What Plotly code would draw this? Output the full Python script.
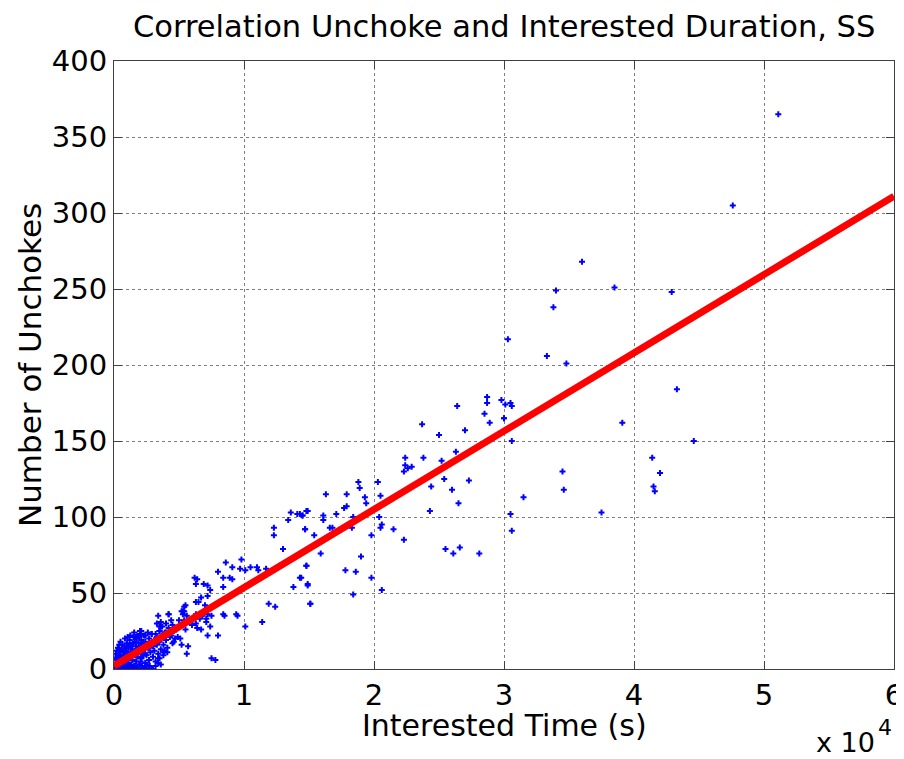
import plotly.graph_objects as go

# Interested time (seconds) and number of unchokes
interested_time_s = [
    # dense cluster near origin
    100, 200, 200, 300, 300, 400, 400, 500, 500, 500, 600, 600, 600, 700, 700,
    800, 800, 800, 900, 900, 900, 1000, 1000, 1000, 1000, 1100, 1100, 1200, 1200,
    1200, 1300, 1300, 1300, 1400, 1400, 1400, 1500, 1500, 1600, 1600, 1600, 1700,
    1700, 1800, 1800, 1800, 1900, 1900, 2000, 2000, 2000, 2100, 2100, 2200, 2200,
    2200, 2300, 2300, 2400, 2400, 2500, 2500, 2600, 2600, 2700, 2700, 2800, 2800,
    2900, 2900, 3000, 3000, 3100, 3100, 3200, 3300, 3300, 3400, 3500, 3500, 3600,
    3600, 3700, 3800, 3800, 3900, 4000, 4000, 4100, 4200, 4300, 4400, 4500, 4600,
    300, 600, 900, 1200, 1500, 1800, 2100, 2400, 2700, 3000,
    2400, 2900, 3200, 2800, 3100, 3400, 2400, 2700, 2400, 2100, 2000, 1700, 2100,
    1900, 1300, 2100, 2700,
    # extra density in the cluster
    100, 150, 200, 250, 300, 350, 400, 450, 500, 550, 650, 750, 850, 950, 1050,
    1150, 1250, 1350, 1450, 1550, 1650, 1750, 1850, 1950, 2050, 2150, 2250, 2350,
    150, 350, 550, 750, 950, 1150, 1350, 1550, 1750, 1950, 2150, 2350, 2550, 2750,
    3200, 3400, 3600,
    # 0.3 - 1.0 (x1e4)
    4400, 4700, 4900, 4600, 5100, 5200, 5700, 5600, 3900, 4100, 3400, 3800, 3500,
    6300, 6500, 6800, 6300, 6400, 6700, 6100, 6600, 6000, 5400, 5600, 5400, 5300,
    5500, 4500, 5000, 4800, 3600, 3700, 3500, 4000, 4200, 3400, 3300, 5500, 5200,
    5300, 6500, 7000, 3500, 2000,
    5400, 5300, 4200, 7100, 7100, 7200, 7400, 7200, 8400, 7500, 6300, 6700, 7200,
    8500, 9400, 9500, 10100, 8000, 7500, 7800,
    9800, 9100, 9700, 10100, 10500, 11000, 11100, 11700, 8600, 8000, 8400, 8900,
    9100, 6200, 6400, 6900, 6300, 7200, 7400, 8400,
    # 1.1 - 1.5
    13600, 14100, 14300, 14500, 14900, 13400, 14700, 12300, 12300, 13000, 14800,
    13800, 14300, 14900, 15100, 11900, 12400, 11400,
    # 1.4 - 2.1
    16300, 17900, 19300, 19400, 20500, 17700, 17900, 17100, 16100, 16100, 14500,
    14800, 14700, 16600, 16800, 18400, 18300, 20400, 20500, 20600, 21500, 22300,
    15400, 19800, 15900, 19000, 14800, 14400, 14900, 17800, 18600, 19800, 18400,
    20600, 15100, 18800, 18900, 20300,
    # 2.2 - 3.2
    22400, 22400, 22900, 22600, 22300, 23700, 25000, 25200, 24400, 26000, 26500,
    24300, 28100, 26600, 25500, 26100, 30600, 30100, 28700, 28700, 30000, 26400,
    28500, 30500, 30600, 28900, 27000, 25400, 27300, 26300, 23800,
    # 3.0 - 5.2 sparse high region
    51100, 47600, 36000, 38500, 34000, 42900, 33800, 30300, 33300, 34800, 31500,
    29800, 30500, 30600, 30000, 39100, 43300, 44600, 41400, 42000, 41500, 41600,
    34500, 34600, 37500,
]
unchokes = [
    # dense cluster near origin
    0, 1, 3, 0, 5, 2, 8, 0, 4, 11, 1, 6, 13, 3, 9,
    0, 5, 15, 2, 7, 12, 0, 4, 10, 17, 6, 14, 1, 8,
    19, 3, 11, 16, 0, 6, 13, 9, 21, 2, 12, 18, 5,
    15, 0, 8, 22, 11, 17, 3, 14, 25, 7, 19, 0, 10,
    16, 13, 22, 4, 18, 9, 0, 14, 24, 6, 20, 11, 17,
    0, 23, 8, 15, 19, 12, 5, 21, 16, 10, 25, 18, 13,
    28, 22, 16, 9, 24, 19, 30, 14, 27, 21, 32, 17, 25,
    0, 0, 0, 0, 0, 0, 0, 0, 0, 0,
    22, 23, 23, 17, 17, 18, 16, 14, 10, 25, 23, 21, 17,
    13, 11, 7, 6,
    # extra density in the cluster
    7, 10, 12, 6, 14, 9, 16, 12, 18, 7, 16, 11, 20, 14, 21,
    10, 22, 15, 17, 24, 9, 20, 13, 21, 5, 12, 9, 15,
    1, 2, 2, 1, 2, 3, 1, 2, 1, 3, 2, 1, 3, 2,
    2, 4, 3,
    # 0.3 - 1.0
    22, 20, 21, 18, 20, 16, 15, 10, 12, 11, 7, 11, 7,
    36, 35, 35, 30, 27, 26, 33, 33, 29, 32, 35, 38, 29,
    26, 29, 32, 26, 31, 28, 28, 24, 36, 35, 30, 42, 38,
    36, 44, 42, 25, 25,
    41, 38, 36, 33, 31, 36, 28, 22, 36, 35, 44, 47, 48,
    35, 36, 35, 28, 22, 7, 6,
    72, 67, 66, 65, 67, 67, 65, 66, 70, 64, 60, 60,
    59, 60, 59, 56, 56, 55, 52, 54,
    # 1.1 - 1.5
    103, 102, 102, 101, 104, 98, 92, 93, 88, 79, 68, 54, 60, 55, 43, 43, 41, 31,
    # 1.4 - 2.1
    115, 115, 113, 109, 114, 106, 107, 102, 101, 98, 101, 104, 92, 93, 93, 100,
    93, 100, 93, 95, 92, 85, 88, 88, 76, 74, 68, 60, 56, 65, 64, 60, 49, 52, 43,
    123, 119, 123,
    # 2.2 - 3.2
    134, 139, 133, 132, 130, 161, 154, 137, 120, 118, 109, 104, 76, 80, 79, 76,
    150, 174, 179, 175, 165, 173, 168, 102, 91, 162, 157, 125, 124, 143, 139,
    # 3.0 - 5.2
    365, 305, 268, 251, 249, 248, 238, 217, 206, 201, 113, 177, 175, 173, 165, 162,
    184, 150, 139, 129, 120, 117, 130, 118, 103,
]

# Linear fit (intercept, slope per second)
fit_intercept = 2.0
fit_slope = 0.00515
fit_x = [0, 60000]
fit_y = [fit_intercept + fit_slope * v for v in fit_x]

x_tick_vals = [0, 10000, 20000, 30000, 40000, 50000, 60000]
x_tick_text = ["0", "1", "2", "3", "4", "5", "6"]
y_tick_vals = [0, 50, 100, 150, 200, 250, 300, 350, 400]

FONT = "DejaVu Sans, Arial, sans-serif"

fig = go.Figure()
fig.add_trace(go.Scatter(
    x=interested_time_s, y=unchokes, mode="markers",
    marker=dict(symbol="cross", size=5, color="#0000ff", line=dict(width=0)),
    showlegend=False, hoverinfo="x+y",
))
fig.add_trace(go.Scatter(
    x=fit_x, y=fit_y, mode="lines",
    line=dict(color="#ff0000", width=7),
    showlegend=False,
))

axis_common = dict(
    showline=True, linecolor="#404040", linewidth=1, mirror="ticks",
    ticks="inside", ticklen=8, tickcolor="#404040", tickwidth=1,
    showgrid=True, gridcolor="rgba(0,0,0,0.5)", griddash="dot", gridwidth=1,
    zeroline=False, tickfont=dict(family=FONT, size=29, color="black"),
    automargin=False,
)

# The page body adds an 8px offset, so the figure is sized to fit the window
fig.update_layout(
    width=896, height=751,
    paper_bgcolor="white", plot_bgcolor="white",
    margin=dict(l=106, r=10, t=53, b=90, autoexpand=False),
    xaxis=dict(range=[0, 60000], tickvals=x_tick_vals, ticktext=x_tick_text, **axis_common),
    yaxis=dict(range=[0, 400], tickvals=y_tick_vals, **axis_common),
    annotations=[
        dict(text="Correlation Unchoke and Interested Duration, SS", xref="paper", yref="paper",
             x=0.5, y=1, xanchor="center", yanchor="middle", yshift=35, showarrow=False,
             font=dict(family=FONT, size=30.5, color="black")),
        dict(text="Interested Time (s)", xref="paper", yref="paper",
             x=0.5, y=0, xanchor="center", yanchor="middle", yshift=-56, showarrow=False,
             font=dict(family=FONT, size=30, color="black")),
        dict(text="Number of Unchokes", xref="paper", yref="paper",
             x=0, y=0.5, xanchor="center", yanchor="middle", xshift=-84, textangle=-90,
             showarrow=False, font=dict(family=FONT, size=31, color="black")),
        dict(text="x 10", xref="paper", yref="paper",
             x=1, y=0, xanchor="right", yanchor="middle", yshift=-73, xshift=-17,
             showarrow=False, font=dict(family=FONT, size=27, color="black")),
        dict(text="4", xref="paper", yref="paper",
             x=1, y=0, xanchor="left", yanchor="middle", yshift=-58, xshift=-18,
             showarrow=False, font=dict(family=FONT, size=22, color="black")),
    ],
)

fig.write_html("out.html")
